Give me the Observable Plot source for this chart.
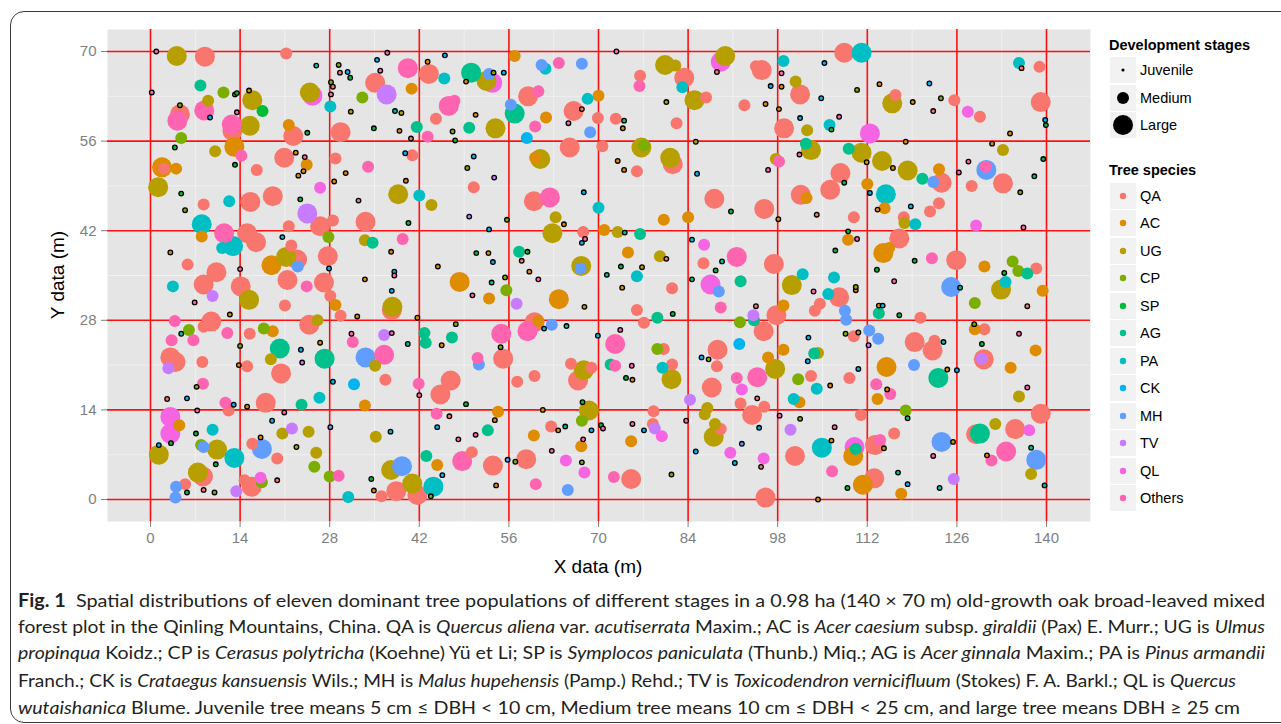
<!DOCTYPE html>
<html>
<head>
<meta charset="utf-8">
<script src="https://cdn.jsdelivr.net/npm/d3@7"></script>
<script src="https://cdn.jsdelivr.net/npm/@observablehq/plot@0.6"></script>
<style>
  body { margin:0; background:#fff; width:1281px; height:724px; overflow:hidden; position:relative; font-family:"Liberation Sans", Arial, sans-serif; }
  #frame { position:absolute; left:10px; top:11px; width:1300px; height:712px; border:1.5px solid #3a3a3a; border-radius:14px; box-sizing:border-box; }
  #chart { position:absolute; left:0; top:0; }
  .axtitle { position:absolute; font-size:19px; color:#000; white-space:nowrap; }
  .leg-title { position:absolute; font-weight:bold; font-size:14.5px; color:#000; white-space:nowrap; }
  .leg-key { position:absolute; width:26px; height:26px; background:#F2F2F2; }
  .leg-lab { position:absolute; font-size:14.5px; color:#000; white-space:nowrap; }
  .cap { position:absolute; left:18px; white-space:nowrap; font-family:Lato,"Open Sans",sans-serif; font-size:18px; line-height:22px; color:#231F20; transform-origin:0 50%; }
</style>
</head>
<body>
<div id="frame"></div>
<div id="chart"></div>
<div id="legend"></div>
<div id="caption"></div>
<script>
// ---- data: [x (m), y (m), development stage] per species ----
const speciesNames = ["QA","AC","UG","CP","SP","AG","PA","CK","MH","TV","QL","Others"];
const speciesColors = ["#F8766D","#DE8C00","#B79F00","#7CAE00","#00BA38","#00C08B","#00BFC4","#00B4F0","#619CFF","#C77CFF","#F564E3","#FF64B0"];
const stageNames = ["Juvenile","Medium","Large"];
const xTicks = [0,14,28,42,56,70,84,98,112,126,140];
const yTicks = [0,14,28,42,56,70];

const QA = [[29.6,66.7,"J"],[8.5,69.2,"L"],[21.2,69.7,"M"],[35.1,65.1,"L"],[4.6,60.2,"L"],[12.8,57.6,"L"],[2.1,51.7,"M"],[8.3,46.1,"M"],[15.1,41.6,"L"],[16.5,40.2,"L"],[16.6,51.5,"M"],[15.6,46.5,"L"],[19.1,47.4,"L"],[20.9,53.4,"L"],[22.3,56.8,"L"],[21.6,42.7,"M"],[26.5,42.7,"L"],[28.5,43.6,"M"],[22.0,39.7,"M"],[28.9,53.3,"M"],[29.7,57.4,"L"],[28.5,64.5,"J"],[33.6,43.4,"L"],[40.9,53.8,"M"],[40.7,56.4,"J"],[5.8,36.7,"M"],[10.3,35.5,"L"],[22.9,37.5,"L"],[27.7,38.0,"L"],
[43.5,66.5,"L"],[44.6,59.5,"M"],[59.0,63.0,"L"],[66.1,60.7,"L"],[67.4,61.0,"J"],[69.9,59.6,"M"],[72.7,59.5,"M"],[76.5,66.2,"M"],[83.4,65.9,"L"],[86.8,62.8,"M"],[88.5,66.8,"J"],[82.2,58.8,"M"],[65.5,55.0,"L"],[70.6,55.2,"M"],[81.6,52.4,"L"],[76.0,51.3,"M"],[50.5,48.8,"M"],[59.9,46.6,"L"],[67.6,41.8,"M"],[88.1,47.0,"L"],[86.4,36.9,"M"],[80.6,37.6,"J"],[58.0,37.3,"J"],
[95.5,67.1,"L"],[94.6,67.7,"M"],[101.5,63.3,"L"],[92.8,61.6,"M"],[99.0,58.0,"L"],[108.4,69.8,"L"],[116.4,63.2,"M"],[122.3,60.7,"J"],[125.6,62.4,"M"],[129.6,59.8,"M"],[136.1,67.4,"J"],[138.9,67.6,"M"],[139.1,62.1,"L"],[133.2,49.4,"L"],[128.3,49.0,"M"],[123.6,49.5,"L"],[107.8,51.0,"L"],[106.2,48.4,"L"],[121.8,45.0,"M"],[123.2,46.3,"M"],[117.7,44.1,"M"],[117.0,40.8,"L"],[125.9,37.4,"L"],[138.4,36.1,"M"],[97.4,36.8,"L"],[109.9,44.1,"M"],[104.1,44.5,"J"],[101.6,47.6,"L"],[95.9,45.4,"L"],
[8.3,33.6,"L"],[14.1,33.3,"L"],[9.5,27.8,"L"],[8.3,27.0,"M"],[3.1,22.2,"L"],[3.9,21.5,"L"],[8.1,21.5,"M"],[15.1,20.8,"M"],[15.5,25.9,"M"],[21.4,34.3,"L"],[21.0,30.3,"M"],[27.1,33.9,"L"],[28.1,31.8,"M"],[29.7,28.7,"M"],[24.8,27.3,"L"],[20.4,19.7,"L"],[37.7,29.6,"L"],[36.7,18.7,"M"],[18.0,15.1,"L"],[12.2,13.9,"M"],[2.6,15.7,"J"],[8.2,3.6,"L"],[5.4,2.4,"M"],[8.3,1.5,"J"],[14.7,3.0,"M"],[15.8,2.0,"L"],[19.8,3.0,"J"],[15.9,8.7,"M"],[19.8,6.4,"M"],[36.1,0.5,"M"],[38.4,1.3,"L"],[41.7,0.7,"L"],
[81.5,33.0,"M"],[76.0,29.6,"M"],[77.1,27.6,"M"],[60.0,27.7,"L"],[55.1,22.0,"L"],[65.7,21.2,"M"],[66.8,18.6,"L"],[68.9,20.6,"M"],[80.2,23.5,"M"],[81.5,21.1,"M"],[88.6,23.4,"L"],[88.5,20.8,"M"],[87.7,17.5,"L"],[46.9,18.6,"L"],[45.3,16.4,"L"],[46.7,13.0,"J"],[57.3,18.4,"M"],[60.0,19.3,"M"],[62.6,11.4,"M"],[58.7,6.3,"L"],[53.5,5.3,"L"],[50.2,7.4,"M"],[75.1,3.2,"L"],[78.6,13.8,"M"],[78.5,11.8,"M"],[89.1,11.0,"M"],
[107.6,31.6,"L"],[104.6,30.6,"M"],[103.8,29.5,"M"],[97.8,28.8,"L"],[94.6,30.2,"J"],[95.8,26.3,"L"],[94.8,15.8,"J"],[92.2,15.0,"M"],[94.0,13.2,"L"],[95.9,14.5,"M"],[95.4,5.1,"J"],[100.7,6.8,"L"],[96.1,0.3,"L"],[120.3,28.4,"M"],[109.9,25.5,"M"],[103.2,19.3,"M"],[109.2,19.0,"M"],[119.4,24.6,"L"],[122.2,23.3,"L"],[122.5,24.8,"M"],[111.0,13.2,"M"],[116.2,10.3,"M"],[113.2,8.5,"L"],[113.1,3.3,"L"],[130.3,26.6,"M"],[130.2,21.9,"L"],[137.0,30.2,"J"],[139.1,13.4,"L"],[135.1,11.0,"L"],[129.0,10.2,"L"]];

const AC = [[40.8,64.2,"M"],[15.4,63.9,"J"],[13.1,55.1,"L"],[1.8,51.9,"L"],[4.0,51.7,"M"],[8.0,41.1,"M"],[21.6,58.5,"M"],[22.7,54.2,"J"],[24.4,52.3,"M"],[23.9,51.3,"J"],[23.1,50.6,"J"],[28.7,49.7,"J"],[30.5,51.0,"J"],[39.9,49.8,"J"],[38.9,57.6,"J"],[37.6,38.7,"J"],[3.1,38.6,"J"],[18.9,36.6,"L"],
[43.3,68.4,"J"],[49.3,65.3,"J"],[56.9,69.3,"M"],[50.8,60.1,"J"],[61.8,59.7,"M"],[70.0,63.1,"M"],[73.8,58.0,"J"],[73.0,52.9,"J"],[74.0,51.5,"J"],[60.1,53.4,"M"],[64.6,43.0,"J"],[70.9,42.1,"M"],[80.2,43.7,"M"],[84.0,44.1,"M"],[74.6,38.6,"M"],[59.2,35.6,"J"],[52.8,38.5,"J"],[44.9,36.4,"J"],
[98.6,64.5,"J"],[96.1,61.8,"J"],[98.2,61.0,"J"],[113.9,64.9,"J"],[119.1,62.1,"J"],[118.0,55.9,"J"],[134.3,57.2,"J"],[131.5,55.6,"J"],[123.2,51.6,"M"],[116.0,51.8,"J"],[111.9,52.7,"J"],[112.0,49.3,"M"],[114.7,45.5,"M"],[113.6,45.3,"J"],[114.5,38.5,"L"],[115.4,39.3,"M"],[130.3,36.4,"M"],[109.0,40.6,"M"],[102.5,47.1,"M"],[98.1,43.8,"J"],
[12.4,28.9,"J"],[19.1,26.3,"M"],[28.9,30.4,"M"],[32.3,28.6,"J"],[33.5,34.4,"J"],[41.7,28.4,"J"],[26.5,24.5,"J"],[13.8,21.0,"J"],[33.5,14.7,"M"],[15.1,14.5,"J"],[4.5,11.6,"M"],[17.2,9.7,"J"],[34.9,1.4,"J"],
[48.3,34.0,"L"],[52.9,31.4,"M"],[63.8,31.3,"L"],[67.8,30.1,"J"],[73.7,33.1,"J"],[45.5,24.1,"J"],[60.6,27.9,"M"],[75.3,18.7,"J"],[54.3,13.7,"M"],[53.8,12.4,"J"],[61.3,14.0,"J"],[63.7,10.8,"J"],[59.9,10.0,"M"],[67.3,8.3,"M"],[54.0,2.2,"J"],[44.8,5.4,"M"],[75.1,9.1,"M"],
[98.9,30.3,"M"],[98.9,23.4,"M"],[96.5,22.2,"M"],[110.2,32.7,"J"],[113.8,30.3,"J"],[110.6,26.1,"J"],[101.4,15.2,"M"],[106.2,17.8,"J"],[115.0,20.7,"L"],[115.1,17.2,"J"],[113.6,15.7,"M"],[124.5,20.3,"J"],[114.6,8.0,"J"],[109.8,6.8,"L"],[106.4,9.2,"J"],[111.3,2.3,"L"],[104.3,0.0,"J"],[117.3,0.9,"M"],[125.4,9.0,"J"],[128.8,26.6,"M"],[139.4,32.6,"M"],[138.3,23.3,"M"],[134.4,20.6,"M"],[130.7,6.9,"J"]];

const UG = [[4.1,69.3,"L"],[15.9,62.4,"L"],[9.0,62.3,"M"],[15.5,58.4,"L"],[10.1,54.4,"M"],[1.2,48.8,"L"],[24.9,63.6,"L"],[31.3,60.6,"J"],[38.7,47.7,"L"],[39.2,60.4,"J"],[33.5,40.5,"M"],[21.2,37.9,"L"],
[52.5,65.4,"L"],[53.9,58.0,"L"],[80.4,67.9,"L"],[82.0,67.8,"M"],[85.0,62.4,"L"],[89.8,69.3,"L"],[80.6,62.1,"J"],[85.2,55.9,"J"],[76.7,55.0,"L"],[81.2,53.4,"L"],[60.9,53.2,"L"],[43.9,46.0,"M"],[63.3,44.1,"M"],[62.8,41.6,"L"],[73.0,41.8,"M"],[79.6,38.0,"M"],[76.8,36.3,"J"],[67.3,36.5,"L"],
[100.8,65.3,"M"],[102.6,57.7,"M"],[115.9,61.9,"L"],[133.2,54.6,"M"],[118.3,51.4,"L"],[114.3,52.9,"L"],[111.1,54.2,"L"],[117.8,43.2,"M"],[97.7,53.2,"M"],[103.2,54.6,"L"],
[15.4,31.2,"L"],[26.1,28.0,"M"],[37.8,30.1,"L"],[18.8,21.9,"M"],[35.1,20.9,"M"],[1.3,7.0,"L"],[10.4,7.8,"L"],[7.4,4.2,"L"],[20.6,10.3,"M"],[22.8,8.2,"J"],[24.7,10.6,"M"],[25.9,7.3,"M"],[35.2,9.8,"M"],[37.6,4.6,"L"],[40.9,2.5,"L"],
[67.7,20.2,"L"],[81.4,18.8,"L"],[68.5,13.9,"L"],[87.0,14.3,"M"],[86.6,13.3,"M"],[88.0,9.8,"L"],[88.2,11.8,"M"],
[100.2,33.5,"L"],[97.6,20.4,"L"],[104.3,22.9,"M"],[132.9,32.8,"L"],[135.7,16.1,"M"],[132.0,11.8,"M"],[137.6,4.0,"M"]];

const CP = [[29.4,67.9,"J"],[33.1,62.8,"M"],[11.4,63.6,"M"],[13.2,63.3,"J"],[4.6,61.6,"J"],[4.8,56.5,"M"],[5.4,45.2,"J"],[27.8,41.0,"M"],[28.2,65.2,"J"],
[53.6,66.7,"J"],[47.2,57.5,"J"],[77.1,55.3,"M"],[49.5,51.8,"J"],[55.7,43.7,"J"],
[110.4,64.0,"J"],[123.5,62.7,"J"],[135.9,48.0,"J"],[134.7,37.2,"M"],[135.6,35.7,"M"],
[6.0,26.5,"M"],[7.2,17.6,"J"],[14.0,24.0,"J"],[17.7,26.7,"M"],[7.9,8.5,"M"],[10.0,1.1,"J"],[17.4,2.7,"M"],[25.6,5.1,"M"],[28.0,3.6,"M"],
[55.4,34.7,"J"],[55.6,32.7,"M"],[47.7,27.4,"J"],[54.7,23.8,"J"],[79.2,23.5,"M"],[87.2,21.9,"J"],[67.4,12.3,"M"],[67.4,5.8,"J"],[57.0,5.9,"J"],[81.4,3.9,"J"],[43.8,0.5,"J"],
[92.1,27.7,"M"],[101.5,12.6,"J"],[110.2,33.2,"J"],[108.6,25.9,"J"],[101.2,18.8,"M"],[118.0,13.9,"M"],[128.7,27.4,"J"],[128.8,30.7,"M"]];

const SP = [[31.2,65.9,"J"],[13.5,63.5,"J"],[17.5,60.7,"M"],[3.8,55.0,"J"],[4.8,47.8,"J"],[13.2,52.3,"J"],[24.5,57.3,"J"],[23.4,46.9,"J"],[34.9,58.0,"J"],[40.3,43.2,"J"],
[47.6,56.1,"J"],[90.7,45.0,"J"],[88.3,35.8,"J"],[73.5,36.4,"J"],[58.9,38.7,"J"],[50.9,38.5,"J"],
[106.4,57.8,"J"],[139.9,58.5,"J"],[139.5,53.2,"J"],[108.4,49.5,"J"],[113.5,35.9,"J"],[119.4,37.3,"J"],[133.4,35.4,"J"],[107.0,38.9,"J"],[109.0,41.9,"J"],
[3.2,8.8,"J"],[7.1,10.3,"J"],[10.2,5.5,"J"],[5.7,1.1,"J"],[34.5,3.2,"J"],
[81.6,29.0,"J"],[49.3,14.9,"J"],[67.5,15.2,"J"],[70.4,11.6,"J"],[74.3,19.0,"J"],
[117.0,28.8,"J"],[129.9,24.3,"J"],[108.9,1.8,"J"]];

const AG = [[7.8,64.7,"M"],[41.6,58.2,"M"],[38.2,60.7,"J"],[34.7,40.1,"M"],
[50.1,66.7,"L"],[49.8,58.1,"M"],[56.9,60.3,"L"],[74.0,59.2,"J"],[74.1,41.7,"J"],[76.5,41.5,"M"],[89.3,37.2,"J"],[57.6,38.7,"M"],
[138.1,50.5,"J"],[120.6,50.1,"M"],[109.1,54.8,"M"],[137.0,35.3,"M"],[102.4,55.6,"M"],
[4.8,25.9,"J"],[40.2,24.3,"J"],[27.2,22.0,"L"],[20.2,23.6,"L"],[23.6,14.8,"M"],
[53.3,33.9,"J"],[71.3,35.1,"J"],[84.6,34.4,"J"],[79.2,28.4,"M"],[42.8,26.0,"M"],[43.0,24.5,"M"],[47.1,25.3,"M"],[71.9,21.1,"M"],[52.7,10.8,"M"],[64.8,11.4,"J"],[43.1,6.8,"M"],
[92.2,34.1,"M"],[94.3,28.0,"M"],[113.8,29.1,"M"],[103.7,22.8,"M"],[118.3,12.7,"J"],[123.1,19.0,"L"],[110.2,7.9,"M"],[116.8,4.2,"J"],[126.5,33.1,"J"],[137.6,8.1,"J"],[129.6,10.3,"L"],[139.7,2.2,"J"]];

const PA = [[25.9,67.8,"J"],[12.3,46.6,"M"],[8.0,43.0,"L"],[11.2,39.3,"M"],[12.9,39.6,"L"],[28.1,61.4,"M"],[42.0,47.5,"M"],
[45.9,65.8,"M"],[61.7,67.3,"M"],[68.3,62.6,"M"],[83.1,64.4,"M"],[70.0,45.6,"M"],
[98.9,68.5,"M"],[111.1,69.8,"L"],[106.1,58.5,"M"],[135.7,68.2,"M"],[114.9,47.7,"L"],[119.5,43.0,"M"],[101.9,35.2,"M"],
[3.5,33.3,"M"],[9.7,10.9,"M"],[13.1,6.5,"L"],[26.4,15.9,"M"],[30.9,0.4,"M"],
[76.0,34.9,"M"],[65.0,27.1,"J"],[80.0,20.6,"M"],[44.2,2.0,"L"],
[105.9,32.1,"M"],[106.8,34.7,"M"],[104.1,17.3,"M"],[100.5,15.7,"M"],[123.9,24.6,"J"],[104.9,8.1,"L"],[123.3,1.8,"J"],[133.6,34.0,"M"]];

const CK = [[30.8,66.8,"J"],[35.4,68.7,"J"],[9.3,59.7,"J"],[20.6,41.0,"J"],[39.8,54.1,"J"],[27.9,36.1,"J"],[38.1,35.6,"J"],
[46.0,69.4,"J"],[55.2,66.7,"J"],[58.8,56.5,"M"],[85.4,50.9,"J"],[50.5,53.6,"J"],[67.7,48.0,"J"],[52.9,42.2,"J"],[67.4,40.1,"J"],[84.6,40.6,"J"],[53.5,37.1,"J"],
[96.9,64.6,"J"],[101.5,59.6,"J"],[104.8,62.7,"J"],[105.3,68.2,"J"],[121.7,65.0,"J"],[139.8,59.3,"J"],[112.4,47.9,"J"],[118.8,45.8,"J"],
[37.7,32.6,"J"],[23.5,23.4,"J"],[28.5,18.4,"J"],[31.8,18.0,"M"],[13.0,14.8,"J"],[5.7,15.8,"J"],[1.3,8.5,"J"],[19.0,12.3,"J"],[37.5,10.6,"J"],
[61.5,26.7,"J"],[69.9,25.6,"J"],[86.1,22.2,"J"],[44.8,11.3,"J"],[68.9,10.8,"J"],[45.6,3.8,"J"],[77.1,10.8,"J"],[85.2,7.5,"J"],
[92.0,24.3,"M"],[95.1,11.2,"J"],[91.3,5.7,"J"],[114.4,30.3,"J"],[102.8,25.3,"J"],[102.7,21.6,"J"],[110.6,20.4,"J"],[126.0,20.2,"J"],[118.3,2.4,"J"]];

const MH = [[23.0,36.4,"M"],
[52.9,66.5,"M"],[61.1,67.9,"M"],[67.4,68.1,"M"],[56.3,61.7,"M"],[68.7,57.4,"M"],[67.2,36.1,"M"],
[130.6,51.5,"L"],[122.3,49.6,"M"],
[33.6,22.2,"L"],[8.3,8.2,"M"],[17.4,7.9,"L"],[4.0,2.0,"M"],[3.9,0.3,"M"],[28.1,11.3,"J"],[39.3,5.2,"L"],
[88.8,32.5,"M"],[62.7,27.3,"M"],[51.3,21.1,"M"],[55.8,6.2,"J"],[65.2,1.5,"M"],
[92.4,8.7,"J"],[108.5,29.5,"M"],[108.7,28.1,"M"],[112.3,26.4,"M"],[113.7,25.1,"M"],[119.3,21.0,"M"],[123.6,9.0,"L"],[125.1,33.2,"L"],[138.4,6.2,"L"]];

const TV = [[36.9,63.3,"L"],[24.5,44.7,"L"],
[53.7,50.3,"J"],[49.8,44.2,"J"],
[9.7,31.8,"M"],[2.8,20.5,"M"],[36.5,25.7,"M"],[23.7,21.4,"J"],[22.1,11.1,"M"],[13.4,1.3,"M"],
[57.2,30.6,"M"],[84.3,15.6,"M"],[78.8,11.1,"M"],
[94.2,28.8,"M"],[100.0,10.9,"M"],[112.2,24.1,"J"],[125.5,3.2,"M"],[129.9,22.0,"M"]];

const QL = [[26.5,48.7,"M"],[25.3,63.1,"L"],
[53.4,65.1,"L"],[89.1,68.4,"L"],[86.5,39.8,"M"],
[127.7,60.6,"M"],[112.4,57.2,"L"],[129.0,42.8,"M"],
[3.1,12.9,"L"],[3.1,10.3,"L"],[17.2,3.4,"M"],
[87.5,33.6,"L"],[64.9,6.1,"M"],[67.8,4.2,"M"],[79.9,9.9,"M"],
[92.4,17.2,"M"],[90.6,7.3,"M"],[95.8,6.4,"M"],[110.0,8.2,"L"],[137.3,10.8,"M"]];

const Others = [[0.9,70.0,"J"],[37.0,69.8,"J"],[35.9,67.0,"J"],[40.2,67.4,"L"],[0.2,63.6,"J"],[8.4,60.8,"L"],[4.2,59.2,"L"],[13.5,60.5,"J"],[12.7,58.6,"L"],[14.2,53.7,"M"],[11.5,41.6,"L"],[24.1,53.5,"J"],[28.2,63.3,"J"],[34.0,52.0,"M"],[32.5,46.7,"J"],[39.4,40.7,"M"],[14.0,36.0,"J"],[38.1,35.0,"J"],
[63.8,68.2,"M"],[72.8,70.0,"J"],[46.6,61.5,"L"],[47.5,62.3,"M"],[43.3,56.7,"M"],[60.6,63.8,"M"],[60.1,58.3,"M"],[65.3,58.8,"J"],[76.4,64.6,"M"],[62.4,47.2,"L"],[67.9,40.7,"J"],
[98.6,66.6,"J"],[107.6,59.8,"J"],[136.4,42.5,"J"],[127.8,52.8,"J"],[126.3,51.1,"J"],[130.5,52.0,"M"],[122.1,37.7,"M"],[91.6,37.9,"L"],[110.4,40.7,"J"],[96.5,51.5,"J"],[98.2,52.8,"M"],[101.4,53.9,"J"],
[6.9,30.8,"J"],[3.8,27.9,"M"],[3.3,24.9,"M"],[6.7,24.9,"M"],[12.0,26.0,"M"],[8.2,18.1,"M"],[24.4,33.3,"M"],[37.7,26.0,"J"],[31.6,24.6,"M"],[31.4,25.9,"J"],[36.5,22.6,"L"],[41.9,18.1,"M"],[42.0,16.3,"J"],[20.9,13.6,"J"],[11.7,15.1,"M"],[7.3,13.9,"J"],[29.4,3.7,"M"],
[60.6,34.4,"J"],[50.3,31.9,"J"],[89.1,30.0,"M"],[54.8,25.9,"L"],[58.9,26.3,"L"],[73.4,26.5,"J"],[72.6,24.3,"L"],[51.1,22.1,"M"],[72.6,20.9,"M"],[75.2,20.9,"J"],[44.7,13.4,"M"],[50.8,10.1,"J"],[48.1,9.4,"J"],[70.7,11.1,"J"],[67.6,9.4,"J"],[62.7,7.6,"J"],[60.2,2.4,"M"],[48.7,6.0,"L"],[72.4,3.5,"M"],[75.3,11.8,"J"],[83.7,12.3,"J"],
[103.6,32.5,"J"],[94.8,19.1,"L"],[91.6,19.0,"M"],[98.3,13.1,"J"],[116.2,34.1,"J"],[113.4,18.0,"M"],[115.6,16.5,"M"],[114.0,9.3,"M"],[106.9,11.3,"J"],[106.5,4.4,"M"],[122.3,6.8,"J"],[135.7,25.9,"J"],[137.0,17.5,"J"],[133.7,7.5,"L"],[131.4,6.1,"M"]];

// ---- build table ----
const bySpecies = {QA, AC, UG, CP, SP, AG, PA, CK, MH, TV, QL, Others};
const trees = [];
for (const sp of speciesNames) {
  for (const [x, y, st] of bySpecies[sp]) trees.push({x, y, species: sp, stage: st});
}
// large QL drawn beneath other large crowns
const large = trees.filter(d => d.stage === "L").sort((a, b) => (b.species === "QL") - (a.species === "QL"));
const medium = trees.filter(d => d.stage === "M");
const juvenile = trees.filter(d => d.stage === "J");
const minorX = [7,21,35,49,63,77,91,105,119,133];
const minorY = [7,21,35,49,63];

const chart = Plot.plot({
  width: 1100,
  height: 590,
  marginLeft: 107,
  marginRight: 10,
  marginTop: 29,
  marginBottom: 69,
  x: {domain: [-6.72, 146.875]},
  y: {domain: [-3.44, 73.44]},
  color: {domain: speciesNames, range: speciesColors},
  style: {fontFamily: "'Liberation Sans', Arial, sans-serif", background: "transparent"},
  marks: [
    Plot.frame({fill: "#E5E5E5", stroke: null}),
    Plot.ruleX(minorX, {stroke: "#F2F2F2", strokeWidth: 0.9}),
    Plot.ruleY(minorY, {stroke: "#F2F2F2", strokeWidth: 0.9}),
    Plot.ruleX(xTicks, {stroke: "#FF1010", strokeWidth: 1.6}),
    Plot.ruleY(yTicks, {stroke: "#FF1010", strokeWidth: 1.6}),
    Plot.dot(large, {x: "x", y: "y", r: 10, fill: "species"}),
    Plot.dot(medium, {x: "x", y: "y", r: 6, fill: "species"}),
    Plot.dot(juvenile, {x: "x", y: "y", r: 2.3, fill: "species", stroke: "#000", strokeWidth: 1.3}),
    Plot.axisX({ticks: xTicks, tickSize: 6, tickPadding: 5, fontSize: 15, color: "#7F7F7F", label: null, tickFormat: d => String(d)}),
    Plot.axisY({ticks: yTicks, tickSize: 6, tickPadding: 5, fontSize: 15, color: "#7F7F7F", label: null, tickFormat: d => String(d)})
  ]
});
document.getElementById("chart").appendChild(chart);

// axis titles
const xl = document.createElement("div");
xl.className = "axtitle"; xl.textContent = "X data (m)";
xl.style.left = "598px"; xl.style.top = "567px"; xl.style.transform = "translate(-50%,-50%)";
document.body.appendChild(xl);
const yl = document.createElement("div");
yl.className = "axtitle"; yl.textContent = "Y data (m)";
yl.style.left = "58px"; yl.style.top = "275px"; yl.style.transform = "translate(-50%,-50%) rotate(-90deg)";
document.body.appendChild(yl);

// legend
const leg = document.getElementById("legend");
function addEl(cls, css, html) {
  const e = document.createElement("div");
  e.className = cls; Object.assign(e.style, css); if (html) e.innerHTML = html;
  leg.appendChild(e); return e;
}
addEl("leg-title", {left: "1109px", top: "37px"}, "Development stages");
const stageR = [1.6, 6, 10];
stageNames.forEach((s, i) => {
  const top = 57 + i * 27.6;
  addEl("leg-key", {left: "1110px", top: top + "px"},
    `<svg width="26" height="26"><circle cx="13" cy="13" r="${stageR[i]}" fill="#000"/></svg>`);
  addEl("leg-lab", {left: "1140px", top: (top + 5) + "px"}, s);
});
addEl("leg-title", {left: "1109px", top: "162px"}, "Tree species");
speciesNames.forEach((s, i) => {
  const top = 183 + i * 27.45;
  addEl("leg-key", {left: "1110px", top: top + "px"},
    `<svg width="26" height="26"><circle cx="13" cy="13" r="3.2" fill="${speciesColors[i]}"/></svg>`);
  addEl("leg-lab", {left: "1140px", top: (top + 5) + "px"}, s);
});

// caption
const capLines = [
  ["<b>Fig. 1</b>&nbsp; Spatial distributions of eleven dominant tree populations of different stages in a 0.98 ha (140 × 70 m) old-growth oak broad-leaved mixed", 1247, 600],
  ["forest plot in the Qinling Mountains, China. QA is <i>Quercus aliena</i> var. <i>acutiserrata</i> Maxim.; AC is <i>Acer caesium</i> subsp. <i>giraldii</i> (Pax) E. Murr.; UG is <i>Ulmus</i>", 1247, 626],
  ["<i>propinqua</i> Koidz.; CP is <i>Cerasus polytricha</i> (Koehne) Yü et Li; SP is <i>Symplocos paniculata</i> (Thunb.) Miq.; AG is <i>Acer ginnala</i> Maxim.; PA is <i>Pinus armandii</i>", 1247, 652],
  ["Franch.; CK is <i>Crataegus kansuensis</i> Wils.; MH is <i>Malus hupehensis</i> (Pamp.) Rehd.; TV is <i>Toxicodendron vernicifluum</i> (Stokes) F. A. Barkl.; QL is <i>Quercus</i>", 1218, 680],
  ["<i>wutaishanica</i> Blume. Juvenile tree means 5 cm ≤ DBH &lt; 10 cm, Medium tree means 10 cm ≤ DBH &lt; 25 cm, and large tree means DBH ≥ 25 cm", 1222, 707]
];
const cap = document.getElementById("caption");
capLines.forEach(([html, w, cy]) => {
  const e = document.createElement("div");
  e.className = "cap"; e.innerHTML = html; e.style.top = (cy - 11) + "px";
  cap.appendChild(e);
  const nat = e.getBoundingClientRect().width;
  e.style.transform = `scaleX(${w / nat})`;
});
</script>
</body>
</html>
